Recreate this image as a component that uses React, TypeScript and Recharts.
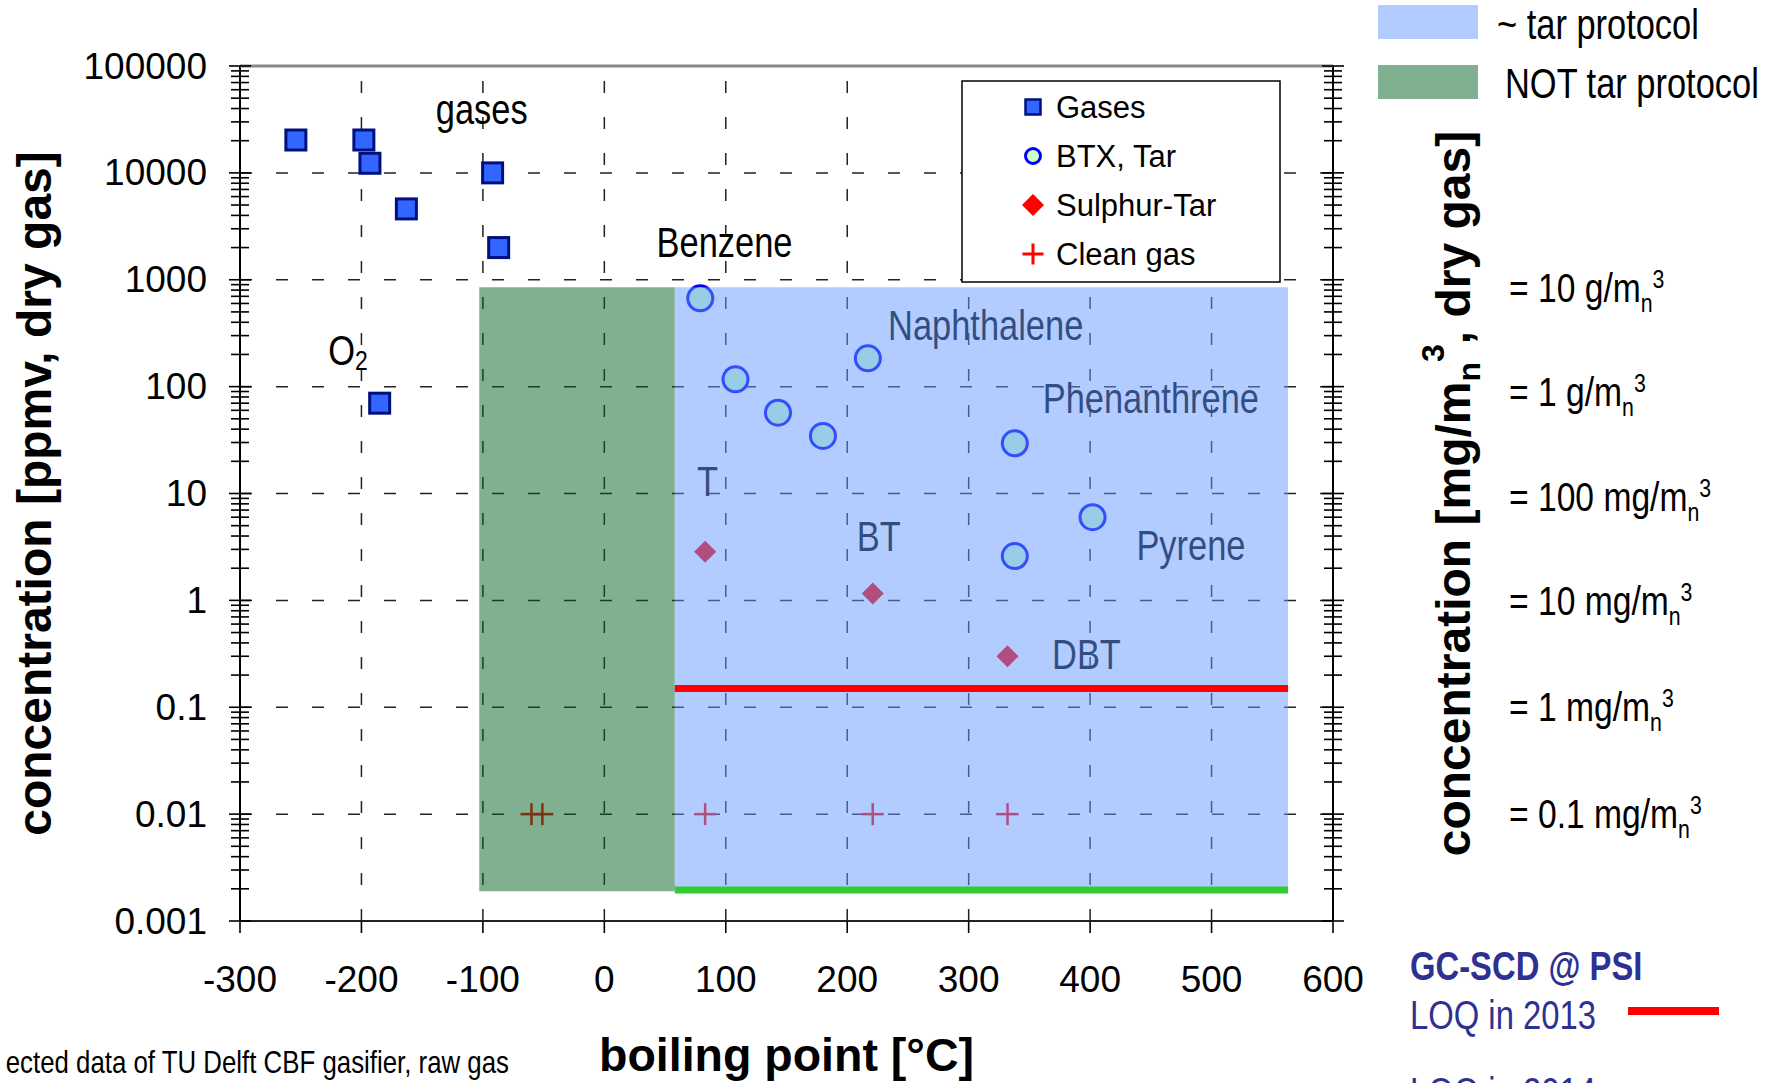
import React from 'react'
import { ReferenceArea, ReferenceLine, Scatter, ScatterChart, XAxis, YAxis } from 'recharts'

// boiling point [°C] vs concentration [ppmv, dry gas]
const gases = [
  { bp: -254, conc: 20300 },
  { bp: -198, conc: 20300 },
  { bp: -193, conc: 12300 },
  { bp: -163, conc: 4600 },
  { bp: -92, conc: 10000 },
  { bp: -87, conc: 2000 },
  { bp: -185, conc: 70 },
]
const btxTar = [
  { bp: 79, conc: 670 },
  { bp: 108, conc: 117 },
  { bp: 143, conc: 57 },
  { bp: 180, conc: 34.6 },
  { bp: 217, conc: 184 },
  { bp: 338, conc: 29.5 },
  { bp: 402, conc: 6 },
  { bp: 338, conc: 2.6 },
]
const sulphurTar = [
  { bp: 83, conc: 2.85 },
  { bp: 221, conc: 1.16 },
  { bp: 332, conc: 0.3 },
]
const cleanGas = [
  { bp: -60, conc: 0.01 },
  { bp: -51, conc: 0.01 },
  { bp: 83, conc: 0.01 },
  { bp: 221, conc: 0.01 },
  { bp: 332, conc: 0.01 },
]

const xTicks = [-300, -200, -100, 0, 100, 200, 300, 400, 500, 600]
const xGrid = [-200, -100, 0, 100, 200, 300, 400, 500]
const yMajor = [0.001, 0.01, 0.1, 1, 10, 100, 1000, 10000, 100000]
const yGrid = [0.01, 0.1, 1, 10, 100, 1000, 10000]
const minorSteps = [2, 3, 4, 5, 6, 7, 8, 9]
const massLabelsAt = [1000, 100, 10, 1, 0.1, 0.01]
const massLabels = ['= 10 g/m', '= 1 g/m', '= 100 mg/m', '= 10 mg/m', '= 1 mg/m', '= 0.1 mg/m']
// the mass labels sit a little below their ticks near the top
const massLabelNudge = [8, 5, 3, 1, 0, 0]

const tarProtocol = { from: 58, to: 563, low: 0.0019, high: 850 }
const notTarProtocol = { from: -103, to: 58, low: 0.0019, high: 850 }
const loq2013 = 0.15
const loq2014 = 0.00195

const annotations = [
  { x: -101, y: 39600, text: 'gases' },
  { x: 99, y: 2260, text: 'Benzene' },
  { x: -211, y: 220, text: 'O', sub: '2' },
  { x: 314, y: 378, text: 'Naphthalene' },
  { x: 450, y: 78, text: 'Phenanthrene' },
  { x: 85, y: 13.1, text: 'T' },
  { x: 226, y: 4.0, text: 'BT' },
  { x: 483, y: 3.3, text: 'Pyrene' },
  { x: 397, y: 0.31, text: 'DBT' },
]

const seriesNames = ['Gases', 'BTX, Tar', 'Sulphur-Tar', 'Clean gas']

const ARIAL = "'Liberation Sans', Arial, sans-serif"
const PSI_BLUE = '#2E3192'
// the two protocol areas are half-transparent washes laid over the markers
const TAR_FILL = '#6699FF'
const NOT_TAR_FILL = '#016121'

const yTicks: number[] = []
yMajor.forEach((m, i) => {
  yTicks.push(m)
  if (i < yMajor.length - 1) {
    const d = Math.round(Math.log10(m))
    minorSteps.forEach((k) => yTicks.push(parseFloat(`${k}e${d}`)))
  }
})

const isMajor = (v: number) => Math.abs(Math.log10(v) - Math.round(Math.log10(v))) < 1e-6

const toXY = (rows: { bp: number; conc: number }[]) => rows.map((r) => ({ x: r.bp, y: r.conc }))

// Arial Narrow is not installed: squeeze Liberation Sans horizontally instead
function Narrow({ x, y, anchor = 'start', baseline = 'central', size, weight = 'normal', fill = '#000', children }: any) {
  return (
    <g transform={`translate(${x} ${y}) scale(0.82 1)`}>
      <text x={0} y={0} textAnchor={anchor} dominantBaseline={baseline} fontFamily={ARIAL} fontSize={size}
        fontWeight={weight} fill={fill}>
        {children}
      </text>
    </g>
  )
}

// marker shapes, shared by the plot and the legend box
const square = (cx: number, cy: number, s: number, sw: number) => (
  <rect x={cx - s / 2} y={cy - s / 2} width={s} height={s} fill="#3366FF" stroke="#00107F" strokeWidth={sw} />
)
const circle = (cx: number, cy: number, r: number, sw: number) => (
  <circle cx={cx} cy={cy} r={r} fill="#CCFFCC" stroke="#0000FF" strokeWidth={sw} />
)
const diamond = (cx: number, cy: number, h: number) => (
  <polygon points={`${cx},${cy - h} ${cx + h},${cy} ${cx},${cy + h} ${cx - h},${cy}`} fill="#FF0000" />
)
const cross = (cx: number, cy: number, h: number, sw: number) => (
  <g stroke="#FF0000" strokeWidth={sw}>
    <line x1={cx - h} x2={cx + h} y1={cy} y2={cy} />
    <line x1={cx} x2={cx} y1={cy - h} y2={cy + h} />
  </g>
)

function LeftTick(props: any) {
  const { x, y, payload } = props
  const major = isMajor(payload.value)
  const h = major ? 11 : 9
  return (
    <g>
      <line x1={x - h} x2={x + h} y1={y} y2={y} stroke="#000" strokeWidth={1.6} />
      {major && (
        <text x={x - 33} y={y} textAnchor="end" dominantBaseline="central" fontFamily={ARIAL} fontSize={37} fill="#000">
          {String(payload.value)}
        </text>
      )}
    </g>
  )
}

function RightTick(props: any) {
  const { x, y, payload } = props
  const major = isMajor(payload.value)
  const h = major ? 11 : 9
  const idx = massLabelsAt.findIndex((v) => Math.abs(v - payload.value) < 1e-9)
  return (
    <g>
      <line x1={x - h} x2={x + h} y1={y} y2={y} stroke="#000" strokeWidth={1.6} />
      {idx >= 0 && (
        <Narrow x={x + 176} y={y + 14 + massLabelNudge[idx]} baseline="auto" size={41}>
          {massLabels[idx]}
          <tspan fontSize={26} dy={10}>n</tspan>
          <tspan fontSize={26} dy={-24}>3</tspan>
        </Narrow>
      )}
    </g>
  )
}

function XTick(props: any) {
  const { x, y, payload } = props
  return (
    <g>
      <line x1={x} x2={x} y1={y} y2={y + 12} stroke="#000" strokeWidth={1.6} />
      <text x={x} y={y + 58} textAnchor="middle" dominantBaseline="central" fontFamily={ARIAL} fontSize={37} fill="#000">
        {payload.value}
      </text>
    </g>
  )
}

function LeftTitle(props: any) {
  const vb = props.viewBox
  const cx = vb.x + 34
  const cy = vb.y + vb.height / 2
  return (
    <text x={cx} y={cy} transform={`rotate(-90 ${cx} ${cy})`} textAnchor="middle" dominantBaseline="central"
      fontFamily={ARIAL} fontWeight="bold" fontSize={48} fill="#000">
      concentration [ppmv, dry gas]
    </text>
  )
}

function RightTitle(props: any) {
  const vb = props.viewBox
  const cx = vb.x + 120
  const cy = vb.y + vb.height / 2
  return (
    <text x={cx} y={cy + 17} transform={`rotate(-90 ${cx} ${cy})`} textAnchor="middle"
      fontFamily={ARIAL} fontWeight="bold" fontSize={48} fill="#000">
      concentration [mg/m
      <tspan fontSize={32} dy={10}>n</tspan>
      <tspan fontSize={32} dy={-36}>3</tspan>
      <tspan dy={26}>, dry gas]</tspan>
    </text>
  )
}

function XTitle(props: any) {
  const vb = props.viewBox
  return (
    <text x={vb.x + vb.width / 2} y={vb.y + 134} textAnchor="middle" dominantBaseline="central"
      fontFamily={ARIAL} fontWeight="bold" fontSize={46.5} fill="#000">
      boiling point [°C]
    </text>
  )
}

function Annotation(props: any) {
  const { cx, cy, payload } = props
  return (
    <Narrow x={cx} y={cy} anchor="middle" size={42}>
      {payload.text}
      {payload.sub && <tspan fontSize={28} dy={10}>{payload.sub}</tspan>}
    </Narrow>
  )
}

const legendRows = [
  (cx: number, cy: number) => square(cx, cy, 15, 2.5),
  (cx: number, cy: number) => circle(cx, cy, 7.5, 3),
  (cx: number, cy: number) => diamond(cx, cy, 11),
  (cx: number, cy: number) => cross(cx, cy, 10.5, 3),
]

export default function App() {
  return (
    <div style={{ position: 'absolute', left: 0, top: 0, width: 1780, height: 1083, background: '#fff', overflow: 'hidden' }}>
      <ScatterChart width={1780} height={1083} margin={{ top: 66, right: 247, bottom: 62, left: 0 }}>
        <XAxis
          type="number"
          dataKey="x"
          domain={[-300, 600]}
          ticks={xTicks}
          interval={0}
          tickSize={0}
          tickMargin={0}
          tick={<XTick />}
          height={100}
          axisLine={{ stroke: '#222', strokeWidth: 2 }}
          tickLine={false}
          label={<XTitle />}
        />
        <YAxis
          yAxisId="left"
          type="number"
          dataKey="y"
          scale="log"
          domain={[0.001, 100000]}
          allowDataOverflow
          ticks={yTicks}
          interval={0}
          tickSize={0}
          tickMargin={0}
          tick={<LeftTick />}
          width={240}
          axisLine={{ stroke: '#000', strokeWidth: 2 }}
          tickLine={false}
          label={<LeftTitle />}
        />
        <YAxis
          yAxisId="right"
          orientation="right"
          type="number"
          dataKey="y"
          scale="log"
          domain={[0.001, 100000]}
          allowDataOverflow
          ticks={yTicks}
          interval={0}
          tickSize={0}
          tickMargin={0}
          tick={<RightTick />}
          width={200}
          axisLine={{ stroke: '#000', strokeWidth: 2 }}
          tickLine={false}
          label={<RightTitle />}
        />

        {yGrid.map((v) => (
          <ReferenceLine key={`gy${v}`} yAxisId="left" y={v} stroke="#222" strokeWidth={1.5} strokeDasharray="12 24" />
        ))}
        {xGrid.map((v) => (
          <ReferenceLine key={`gx${v}`} yAxisId="left" x={v} stroke="#222" strokeWidth={1.5} strokeDasharray="12 24" />
        ))}

        <Scatter name={seriesNames[0]} yAxisId="left" data={toXY(gases)} isAnimationActive={false}
          shape={(p: any) => square(p.cx, p.cy, 20, 3)} />
        <Scatter name={seriesNames[1]} yAxisId="left" data={toXY(btxTar)} isAnimationActive={false}
          shape={(p: any) => circle(p.cx, p.cy, 12.5, 3)} />
        <Scatter name={seriesNames[2]} yAxisId="left" data={toXY(sulphurTar)} isAnimationActive={false}
          shape={(p: any) => diamond(p.cx, p.cy, 11)} />
        <Scatter name={seriesNames[3]} yAxisId="left" data={toXY(cleanGas)} isAnimationActive={false}
          shape={(p: any) => cross(p.cx, p.cy, 11, 2.5)} />
        <Scatter name="labels" yAxisId="left" data={annotations} isAnimationActive={false} shape={<Annotation />} />

        <ReferenceArea yAxisId="left" x1={notTarProtocol.from} x2={notTarProtocol.to} y1={notTarProtocol.low}
          y2={notTarProtocol.high} fill={NOT_TAR_FILL} fillOpacity={0.5} stroke="none" zIndex={650} />
        <ReferenceArea yAxisId="left" x1={tarProtocol.from} x2={tarProtocol.to} y1={tarProtocol.low}
          y2={tarProtocol.high} fill={TAR_FILL} fillOpacity={0.5} stroke="none" zIndex={650} />

        <ReferenceLine yAxisId="left" segment={[{ x: tarProtocol.from, y: loq2013 }, { x: tarProtocol.to, y: loq2013 }]}
          stroke="#FF0000" strokeWidth={7} zIndex={700} />
        <ReferenceLine yAxisId="left" segment={[{ x: tarProtocol.from, y: loq2014 }, { x: tarProtocol.to, y: loq2014 }]}
          stroke="#33CC33" strokeWidth={7} zIndex={700} />
        <ReferenceLine yAxisId="left" y={100000} stroke="#888" strokeWidth={3} zIndex={700} />
      </ScatterChart>

      <svg width={1780} height={1083} style={{ position: 'absolute', left: 0, top: 0, pointerEvents: 'none' }}>
        {/* legend box inside the plot */}
        <rect x={962} y={81} width={318} height={201} fill="#fff" stroke="#000" strokeWidth={1.5} />
        {seriesNames.map((name, i) => {
          const cy = 107 + i * 49
          return (
            <g key={name}>
              {legendRows[i](1033, cy)}
              <text x={1056} y={cy} dominantBaseline="central" fontFamily={ARIAL} fontSize={31} fill="#000">
                {name}
              </text>
            </g>
          )
        })}

        {/* protocol key, top right */}
        <rect x={1378} y={5} width={100} height={34} fill={TAR_FILL} fillOpacity={0.5} />
        <rect x={1378} y={65} width={100} height={34} fill={NOT_TAR_FILL} fillOpacity={0.5} />
        <Narrow x={1497} y={24} size={42}>~ tar protocol</Narrow>
        <Narrow x={1505} y={83} size={42}>NOT tar protocol</Narrow>

        {/* LOQ key, bottom right */}
        <Narrow x={1410} y={966} size={40} weight="bold" fill={PSI_BLUE}>GC-SCD @ PSI</Narrow>
        <Narrow x={1410} y={1015} size={40} fill={PSI_BLUE}>LOQ in 2013</Narrow>
        <line x1={1628} x2={1719} y1={1011} y2={1011} stroke="#FF0000" strokeWidth={8} />
        <Narrow x={1410} y={1092} size={40} fill={PSI_BLUE}>LOQ in 2014</Narrow>

        <Narrow x={509} y={1062} anchor="end" size={31.5}>ected data of TU Delft CBF gasifier, raw gas</Narrow>
      </svg>
    </div>
  )
}
